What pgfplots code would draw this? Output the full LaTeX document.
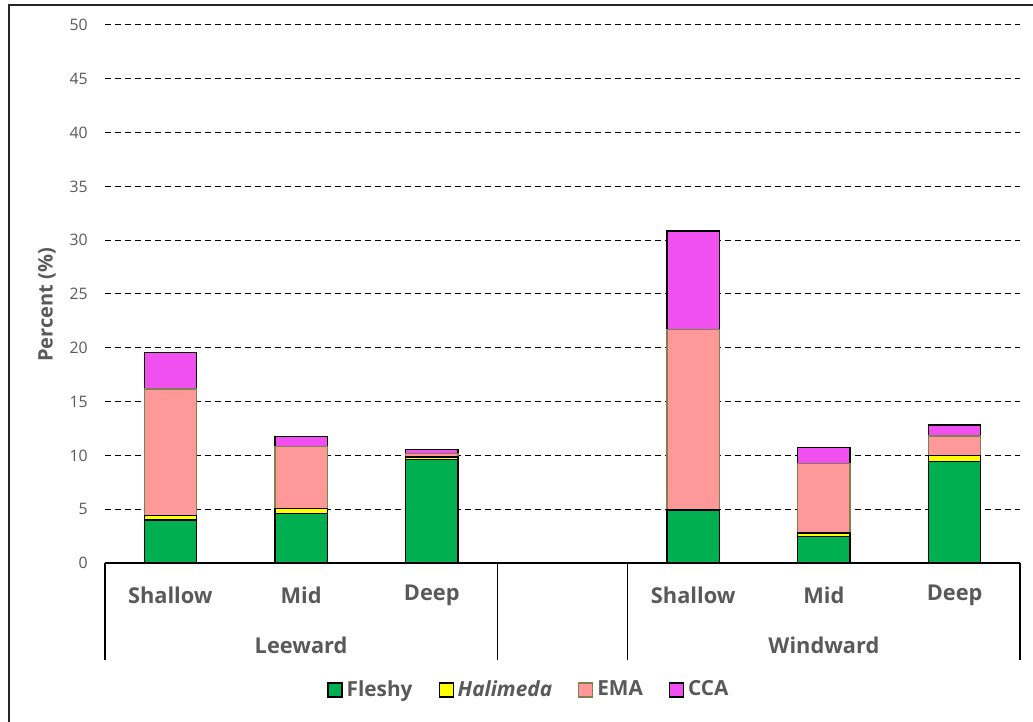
\documentclass[border=0pt]{standalone}
\usepackage{fontspec}
\setmainfont{Open Sans}
\usepackage{pgfplots}
\pgfplotsset{compat=1.18}
\definecolor{fleshy}{HTML}{00B050}
\definecolor{hali}{HTML}{FFFF00}
\definecolor{ema}{HTML}{FF9999}
\definecolor{cca}{HTML}{F050F0}
\definecolor{txt}{HTML}{595959}
\definecolor{emaedge}{HTML}{7F7F4F}
\begin{document}
\begin{tikzpicture}[x=1pt,y=1pt]
\useasboundingbox (0,0) rectangle (516.5,361);
\draw[line width=0.75pt, black!85] (4.5,0) -- (4.5,358.5) -- (516.5,358.5);
\begin{axis}[
  at={(52.5pt,79.5pt)}, anchor=south west,
  width=457.5pt, height=269pt, scale only axis,
  clip=false,
  xmin=-0.5, xmax=6.5, ymin=0, ymax=50,
  ytick={0,5,...,50},
  ymajorgrids,
  grid style={black, dash pattern=on 3pt off 2pt, line width=0.5pt},
  axis x line*=bottom, axis y line*=left,
  x axis line style={-, line width=0.8pt, black},
  y axis line style={draw=none},
  major tick length=0pt,
  /pgf/number format/assume math mode=true,
  yticklabel style={font=\fontsize{7.9}{9}\selectfont, text=txt, inner xsep=0pt, xshift=-8.5pt},
  xtick={0,1,2,4,5,6},
  xticklabels={Shallow,Mid,Deep,Shallow,Mid,Deep},
  xticklabel style={font=\fontsize{10.9}{13}\selectfont\bfseries, text=txt, anchor=center, yshift=-16pt},
  ylabel={Percent (\%)},
  ylabel style={font=\fontsize{10}{12}\selectfont\bfseries, text=txt, at={(axis description cs:-0.0634,0.48)}, anchor=center},
  ybar stacked, bar width=0.4,
  legend columns=4,
  legend style={draw=none, at={(0.4645,-0.236)}, anchor=center,
    font=\fontsize{10.4}{12}\selectfont\bfseries, text=txt,
    /tikz/every even column/.append style={column sep=11pt}},
  legend image code/.code={\draw[#1] (0pt,-3.5pt) rectangle (7pt,3.5pt);},
]
\addplot[fill=fleshy, draw=black, line width=0.6pt] coordinates {(0,4.0) (1,4.6) (2,9.65) (4,4.88) (5,2.47) (6,9.4)};
\addplot[fill=hali, draw=black, line width=0.6pt] coordinates {(0,0.42) (1,0.44) (2,0.21) (4,0.12) (5,0.31) (6,0.62)};
\addplot[fill=ema, draw=emaedge, line width=0.6pt] coordinates {(0,11.76) (1,5.79) (2,0.34) (4,16.7) (5,6.5) (6,1.79)};
\addplot[fill=cca, draw=black, line width=0.6pt] coordinates {(0,3.42) (1,0.9) (2,0.35) (4,9.15) (5,1.48) (6,1.02)};
\legend{Fleshy,\textit{Halimeda},EMA,CCA}
\draw[line width=0.6pt, black] (axis cs:-0.5,0) -- ([yshift=-48.5pt]axis cs:-0.5,0);
\draw[line width=0.6pt, black] (axis cs:2.5,0) -- ([yshift=-48.5pt]axis cs:2.5,0);
\draw[line width=0.6pt, black] (axis cs:3.5,0) -- ([yshift=-48.5pt]axis cs:3.5,0);
\draw[line width=0.6pt, black] (axis cs:6.5,0) -- ([yshift=-48.5pt]axis cs:6.5,0);
\node[font=\fontsize{10.9}{13}\selectfont\bfseries, text=txt] at (axis cs:1,0) [yshift=-41pt] {Leeward};
\node[font=\fontsize{10.9}{13}\selectfont\bfseries, text=txt] at (axis cs:5,0) [yshift=-41pt] {Windward};
\end{axis}
\end{tikzpicture}
\end{document}
